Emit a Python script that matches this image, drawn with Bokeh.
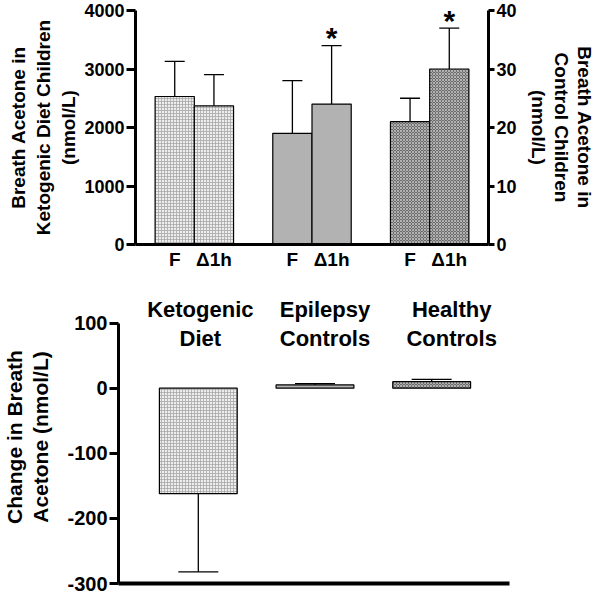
import numpy as np
from bokeh.plotting import figure
from bokeh.models import ColumnDataSource, Range1d, LinearAxis, FixedTicker, Whisker, TeeHead
from bokeh.embed import file_html
from bokeh.resources import INLINE
from bokeh.core.properties import value

# ---------------- data ----------------
time_points = ["F", "\u03941h"]
groups = ["Ketogenic Diet", "Epilepsy Controls", "Healthy Controls"]

keto_mean = [2530, 2370]      # nmol/L (left axis)
keto_err = [600, 535]
epi_mean = [19, 24]           # nmol/L (right axis)
epi_err = [9, 10]
healthy_mean = [21, 30]
healthy_err = [4, 7]
star_groups = ["Epilepsy Controls", "Healthy Controls"]   # * on the \u03941h bar

change_labels = ["Ketogenic\nDiet", "Epilepsy\nControls", "Healthy\nControls"]
change_mean = [-162, 5, 10]
change_err = [120, 2, 3.5]

left_ticks = [0, 1000, 2000, 3000, 4000]
right_ticks = [0, 10, 20, 30, 40]
change_ticks = [-300, -200, -100, 0, 100]

FONT = "Liberation Sans"

# styles
fills = ["#ededed", "#b2b2b2", "#6c6c6c"]
hatches = ["cross", " ", "diagonal_cross"]
hatch_colors = ["#a8a8a8", "#b2b2b2", "#c4c4c4"]


def style_axis(ax, size="18px", lsize="19px"):
    ax.axis_line_width = 3
    ax.axis_line_color = "black"
    ax.major_tick_line_width = 3
    ax.major_tick_line_color = "black"
    ax.major_tick_in = 0
    ax.major_tick_out = 9
    ax.minor_tick_line_color = None
    ax.major_label_text_font = FONT
    ax.major_label_text_font_style = "bold"
    ax.major_label_text_font_size = size
    ax.major_label_text_color = "black"
    ax.major_label_standoff = 2
    ax.axis_label_text_font = FONT
    ax.axis_label_text_font_style = "bold"
    ax.axis_label_text_font_size = lsize
    ax.axis_label_text_color = "black"


# ---------------- top figure ----------------
top = figure(width=597, height=285, x_range=Range1d(-1, 8), y_range=Range1d(0, 4000),
             output_backend="svg", toolbar_location=None,
             min_border_left=135, min_border_right=106, min_border_top=10, min_border_bottom=41)
top.extra_y_ranges = {"ctrl": Range1d(0, 40)}
top.xgrid.visible = False
top.ygrid.visible = False
top.outline_line_color = None
top.background_fill_color = "white"
top.border_fill_color = "white"

all_means = [keto_mean, epi_mean, healthy_mean]
all_errs = [keto_err, epi_err, healthy_err]
tick_pos = []
tick_lab = {}
for g in range(3):
    xs = [g * 3 + j for j in range(2)]
    for j, xv in enumerate(xs):
        tick_pos.append(xv)
        tick_lab[xv] = time_points[j]
    src = ColumnDataSource(dict(x=xs, top=all_means[g],
                                up=[m + e for m, e in zip(all_means[g], all_errs[g])]))
    rng = "default" if g == 0 else "ctrl"
    top.vbar(x="x", top="top", bottom=0, width=1.0, source=src, y_range_name=rng,
             fill_color=fills[g], line_color="black", line_width=1.2,
             hatch_pattern=hatches[g], hatch_color=hatch_colors[g], hatch_scale=3, hatch_weight=0.8)
    w = Whisker(source=src, base="x", lower="top", upper="up", y_range_name=rng,
                line_color="black", line_width=1.3,
                upper_head=TeeHead(size=20, line_color="black", line_width=1.3), lower_head=None)
    top.add_layout(w)

star_x = [groups.index(gname) * 3 + 1 for gname in star_groups]
star_y = [(epi_mean if gname == "Epilepsy Controls" else healthy_mean)[1] +
          (epi_err if gname == "Epilepsy Controls" else healthy_err)[1] for gname in star_groups]
star_src = ColumnDataSource(dict(x=star_x, y=star_y, t=["*"] * len(star_x)))
top.text(x="x", y="y", text="t", source=star_src, y_range_name="ctrl",
         text_font=value(FONT), text_font_style="bold", text_font_size="30px",
         text_align="center", text_baseline="alphabetic", y_offset=-8, text_color="black")

top.yaxis.ticker = FixedTicker(ticks=left_ticks)
top.yaxis.axis_label = "Breath Acetone in\nKetogenic Diet Children\n(nmol/L)"
style_axis(top.yaxis[0])
top.yaxis.axis_label_standoff = 2

rax = LinearAxis(y_range_name="ctrl", ticker=FixedTicker(ticks=right_ticks),
                 axis_label="Breath Acetone in\nControl Children\n(nmol/L)")
style_axis(rax)
rax.major_tick_out = 6
rax.axis_label_standoff = 8
rax.axis_label_text_line_height = 1.1
top.add_layout(rax, "right")

top.xaxis.ticker = FixedTicker(ticks=tick_pos)
top.xaxis.major_label_overrides = tick_lab
style_axis(top.xaxis[0], size="19px")
top.xaxis.major_tick_out = 0
top.xaxis.major_tick_line_color = None
top.xaxis.major_label_standoff = 4

# ---------------- bottom figure ----------------
bot = figure(width=597, height=308, x_range=Range1d(-0.684, 2.667), y_range=Range1d(-300, 150),
             output_backend="svg", toolbar_location=None,
             min_border_left=112, min_border_right=88, min_border_top=5, min_border_bottom=10)
bot.xgrid.visible = False
bot.ygrid.visible = False
bot.outline_line_color = None
bot.background_fill_color = "white"
bot.border_fill_color = "white"

cx = list(range(len(change_labels)))
csrc = ColumnDataSource(dict(x=cx, top=change_mean, fill=fills, hatch=hatches, hc=hatch_colors))
bot.vbar(x="x", top="top", bottom=0, width=0.667, source=csrc,
         fill_color="fill", line_color="black", line_width=1.2,
         hatch_pattern="hatch", hatch_color="hc", hatch_scale=3, hatch_weight=0.8)

neg = [i for i in cx if change_mean[i] < 0]
pos = [i for i in cx if change_mean[i] >= 0]
nsrc = ColumnDataSource(dict(x=neg, m=[change_mean[i] for i in neg],
                             tip=[change_mean[i] - change_err[i] for i in neg]))
psrc = ColumnDataSource(dict(x=pos, m=[change_mean[i] for i in pos],
                             tip=[change_mean[i] + change_err[i] for i in pos]))
bot.add_layout(Whisker(source=nsrc, base="x", lower="tip", upper="m", line_color="black", line_width=1.3,
                       lower_head=TeeHead(size=40, line_color="black", line_width=1.3), upper_head=None))
bot.add_layout(Whisker(source=psrc, base="x", lower="m", upper="tip", line_color="black", line_width=1.3,
                       upper_head=TeeHead(size=40, line_color="black", line_width=1.3), lower_head=None))

lsrc = ColumnDataSource(dict(x=cx, y=[140] * len(cx), t=change_labels, dx=[2, 10, 20]))
bot.text(x="x", y="y", text="t", source=lsrc, x_offset="dx",
         text_font=value(FONT), text_font_style="bold", text_font_size="22px",
         text_align="center", text_baseline="top", text_line_height=1.15, text_color="black")

bot.yaxis.ticker = FixedTicker(ticks=change_ticks)
bot.yaxis.major_label_overrides = {t: str(t) for t in change_ticks}
bot.yaxis.bounds = (-300, 100)
bot.yaxis.axis_label = "Change in Breath\nAcetone (nmol/L)"
style_axis(bot.yaxis[0], size="20px", lsize="21px")
bot.yaxis.axis_label_text_line_height = 1.15
bot.yaxis.axis_label_standoff = 12

bot.xaxis.ticker = FixedTicker(ticks=[])
style_axis(bot.xaxis[0])
bot.xaxis.axis_line_width = 4

# two independent roots, stacked by the page flow (no frame alignment between them)
open("out.html", "w").write(file_html([top, bot], INLINE))
